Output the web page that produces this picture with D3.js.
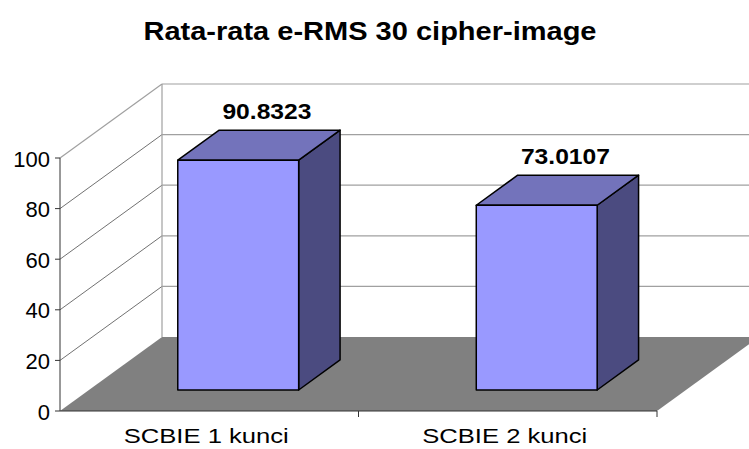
<!DOCTYPE html>
<html>
<head>
<meta charset="utf-8">
<script src="https://cdn.jsdelivr.net/npm/d3@7"></script>
<style>
  body { margin: 0; background: #fff; }
  text { font-family: "Liberation Sans", Arial, sans-serif; }
</style>
</head>
<body>
<div id="viz"></div>
<script>

const categories = ["SCBIE 1 kunci", "SCBIE 2 kunci"];
const values = [90.8323, 73.0107];
const labels = ["90.8323", "73.0107"];
const yTicks = [0, 20, 40, 60, 80, 100];
const title = "Rata-rata e-RMS 30 cipher-image";

const width = 749, height = 449;

// oblique depth offset for the full floor depth
const DX = 102, DY = -74;
const barDepth0 = 0.284, barDepth1 = 0.69;

const x = d3.scaleBand().domain(categories).range([60, 657]).padding(0);
const y = d3.scaleLinear().domain([0, 100]).range([411, 158]);

function P(px, py, d) {
    return [px + d * DX, py + d * DY];
}
function poly(pts) {
    return pts.map(p => p.join(",")).join(" ");
}

const svg = d3.select("#viz").append("svg")
    .attr("width", width)
    .attr("height", height);

svg.append("text")
    .attr("x", 370).attr("y", 40)
    .attr("text-anchor", "middle")
    .attr("font-size", 25).attr("font-weight", "bold")
    .attr("textLength", 453).attr("lengthAdjust", "spacingAndGlyphs")
    .text(title);

const x0 = x.range()[0], x1 = x.range()[1];
const wallRight = width + 20;

// back wall
svg.append("polygon")
    .attr("points", poly([P(x0, y(0), 1), P(x0, y(100), 1), [wallRight, y(100) + DY], [wallRight, y(0) + DY]]))
    .attr("fill", "#fff");

// back wall gridlines
svg.append("g").selectAll("line")
    .data(yTicks.filter(d => d > 0))
    .join("line")
    .attr("x1", x0 + DX).attr("x2", wallRight)
    .attr("y1", d => y(d) + DY).attr("y2", d => y(d) + DY)
    .attr("stroke", "#a0a0a0").attr("stroke-width", 1.2);

// left wall gridlines
svg.append("g").selectAll("line")
    .data(yTicks.filter(d => d > 0))
    .join("line")
    .attr("x1", x0).attr("y1", d => y(d))
    .attr("x2", x0 + DX).attr("y2", d => y(d) + DY)
    .attr("stroke", d => d == 100 ? "#a0a0a0" : "#333")
    .attr("stroke-width", d => d == 100 ? 1.2 : 0.7);

svg.append("line")
    .attr("x1", x0 + DX).attr("x2", x0 + DX)
    .attr("y1", y(100) + DY).attr("y2", y(0) + DY)
    .attr("stroke", "#a0a0a0").attr("stroke-width", 1.2);

// floor
svg.append("polygon")
    .attr("points", poly([[x0, y(0)], [x1, y(0)], P(x1, y(0), 1), P(x0, y(0), 1)]))
    .attr("fill", "#808080");

// axes
svg.append("line")
    .attr("x1", x0).attr("x2", x0).attr("y1", y(100)).attr("y2", y(0))
    .attr("stroke", "#333").attr("stroke-width", 1);
svg.append("line")
    .attr("x1", x0).attr("x2", x1).attr("y1", y(0)).attr("y2", y(0))
    .attr("stroke", "#333").attr("stroke-width", 1);

svg.append("g").selectAll("line")
    .data(yTicks)
    .join("line")
    .attr("x1", x0 - 5).attr("x2", x0)
    .attr("y1", d => y(d)).attr("y2", d => y(d))
    .attr("stroke", "#333");

svg.append("g").selectAll("text")
    .data(yTicks)
    .join("text")
    .attr("x", x0 - 10).attr("y", d => y(d) + 8.5)
    .attr("text-anchor", "end")
    .attr("font-size", 22)
    .text(d => d);

svg.append("g").selectAll("line")
    .data(categories)
    .join("line")
    .attr("x1", d => x(d) + x.bandwidth()).attr("x2", d => x(d) + x.bandwidth())
    .attr("y1", y(0)).attr("y2", y(0) + 6)
    .attr("stroke", "#333");

svg.append("g").selectAll("text")
    .data(categories)
    .join("text")
    .attr("x", d => x(d) + x.bandwidth() / 2 - 3)
    .attr("y", 443)
    .attr("text-anchor", "middle")
    .attr("font-size", 21)
    .attr("textLength", 165).attr("lengthAdjust", "spacingAndGlyphs")
    .text(d => d);

// bars
const bw = x.bandwidth() * 0.405;
const bars = svg.append("g").selectAll("g")
    .data(categories.map((c, i) => ({ c: c, v: values[i], label: labels[i] })))
    .join("g");

bars.each(function (d) {
    const g = d3.select(this);
    const l = x(d.c) + x.bandwidth() / 2 - bw / 2;
    const r = l + bw;
    const b = y(0), t = y(d.v);
    const fbl = P(l, b, barDepth0), fbr = P(r, b, barDepth0);
    const ftl = P(l, t, barDepth0), ftr = P(r, t, barDepth0);
    const bbr = P(r, b, barDepth1), btl = P(l, t, barDepth1), btr = P(r, t, barDepth1);

    g.append("polygon")
        .attr("points", poly([fbr, ftr, btr, bbr]))
        .attr("fill", "#4b4b80").attr("stroke", "#000").attr("stroke-width", 1.5)
        .attr("stroke-linejoin", "round");
    g.append("polygon")
        .attr("points", poly([ftl, ftr, btr, btl]))
        .attr("fill", "#7373bb").attr("stroke", "#000").attr("stroke-width", 1.5)
        .attr("stroke-linejoin", "round");
    g.append("polygon")
        .attr("points", poly([fbl, ftl, ftr, fbr]))
        .attr("fill", "#9999ff").attr("stroke", "#000").attr("stroke-width", 1.5)
        .attr("stroke-linejoin", "round");

    const mid = P((l + r) / 2, t, (barDepth0 + barDepth1) / 2);
    g.append("text")
        .attr("x", mid[0] + 8).attr("y", mid[1] - 26)
        .attr("text-anchor", "middle")
        .attr("font-size", 22).attr("font-weight", "bold")
        .attr("textLength", 89).attr("lengthAdjust", "spacingAndGlyphs")
        .text(d.label);
});

</script>
</body>
</html>
